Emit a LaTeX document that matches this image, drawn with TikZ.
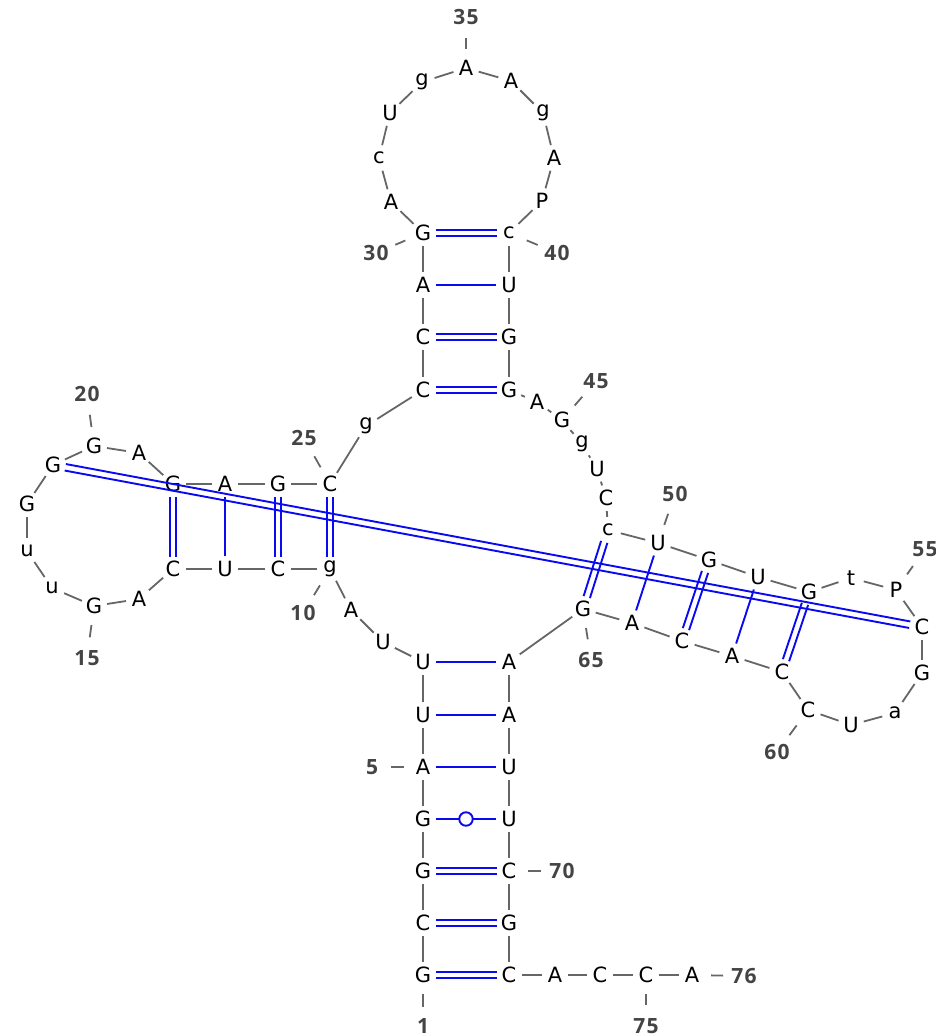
\documentclass[tikz,border=0pt]{standalone}
\usepackage{fontspec}
\setmainfont{DejaVu Sans}
\newfontfamily\lblfont[LetterSpace=6]{Open Sans}
\usetikzlibrary{calc}
\definecolor{bb}{HTML}{666666}
\definecolor{lbl}{HTML}{444444}
\definecolor{bp}{HTML}{0A0AF0}
\tikzset{
  base/.style={circle,inner sep=0pt,minimum size=26pt,font=\fontsize{21}{23}\selectfont,text=black,anchor=center},
  numlab/.style={circle,inner sep=0pt,minimum size=26pt,font=\lblfont\bfseries\fontsize{21}{23}\selectfont,text=lbl},
  backbone/.style={draw=bb,line width=1.8pt},
  tick/.style={draw=bb,line width=1.8pt,shorten <=6pt,shorten >=6pt},
  pairline/.style={draw=bp,line width=1.9pt,shorten <=12.5pt,shorten >=12.5pt},
  singlepair/.style={draw=bp,line width=1.9pt},
  gucircle/.style={circle,draw=bp,fill=white,line width=1.9pt,inner sep=0pt,minimum size=13.5pt}
}
\newcommand{\dblpair}[2]{%
  \draw[pairline] ($(n#1)!3.3pt!90:(n#2)$) -- ($(n#2)!3.3pt!-90:(n#1)$);
  \draw[pairline] ($(n#1)!3.3pt!-90:(n#2)$) -- ($(n#2)!3.3pt!90:(n#1)$);}
\begin{document}
\begin{tikzpicture}[x=1pt,y=-1pt]
\useasboundingbox (0,0) rectangle (936,1035);
\foreach \i/\t/\x/\y in {
1/G/423/975,2/C/423/923,3/G/423/871,4/G/423/819,5/A/423/767,6/U/423/715,7/U/423/662,
8/U/383/642,9/A/351/610,10/g/330/569,11/C/278/569,12/U/225/569,13/C/173/569,14/A/139/599,
15/G/94/606,16/u/52/588,17/u/27/551,18/G/27/504,19/G/53/465,20/G/94/446,21/A/139/453,
22/G/173/484,23/A/225/484,24/G/278/484,25/C/330/484,26/g/366/426,27/C/423/390,28/C/423/337,
29/A/423/285,30/G/423/233,31/A/391/202,32/c/379/158,33/U/390/113,34/g/422/82,35/A/466/68,
36/A/511/81,37/g/543/113,38/A/554/158,39/P/542/201,40/c/509/233,41/U/509/285,42/G/509/337,
43/G/509/390,44/A/537/402,45/G/562/420,46/g/582/444,47/U/597/469,48/C/606/498,49/c/608/530,
50/U/658/543,51/G/709/560,52/U/758/577,53/G/809/592,54/t/851/578,55/P/896/590,56/C/922/627,
57/G/922/673,58/a/895/713,59/U/851/725,60/C/808/710,61/C/782/672,62/A/732/656,63/C/682/641,
64/A/632/623,65/G/583/609,66/A/509/662,67/A/509/715,68/U/509/767,69/U/509/819,70/C/509/871,
71/G/509/923,72/C/509/975,73/A/555/975,74/C/600/975,75/C/646/975,76/A/692/975}
  {\node[base] (n\i) at (\x,\y) {\t};}
\foreach \i/\x/\y in {1/423/1026,5/372/767,10/303/613,15/87/658,20/87/394,25/304/438,30/376/253,
35/466/17,40/557/253,45/596/381,50/675/494,55/925/549,60/777/752,65/591/660,70/562/871,75/646/1026,76/744/976}
  {\node[numlab] (l\i) at (\x,\y) {\i}; \draw[tick] (n\i) -- (l\i);}
\foreach \a [evaluate=\a as \b using int(\a+1)] in {1,...,75}
  {\draw[backbone] (n\a) -- (n\b);}
\foreach \a/\b in {1/72,2/71,3/70,27/43,28/42,30/40,10/25,11/24,13/22,19/56,49/65,51/63,53/61}
  {\dblpair{\a}{\b}}
\foreach \a/\b in {5/68,6/67,7/66,29/41,12/23,50/64,52/62,4/69}
  {\draw[singlepair] (n\a) -- (n\b);}
\node[gucircle] (gu) at (466,819) {};
\end{tikzpicture}
\end{document}
